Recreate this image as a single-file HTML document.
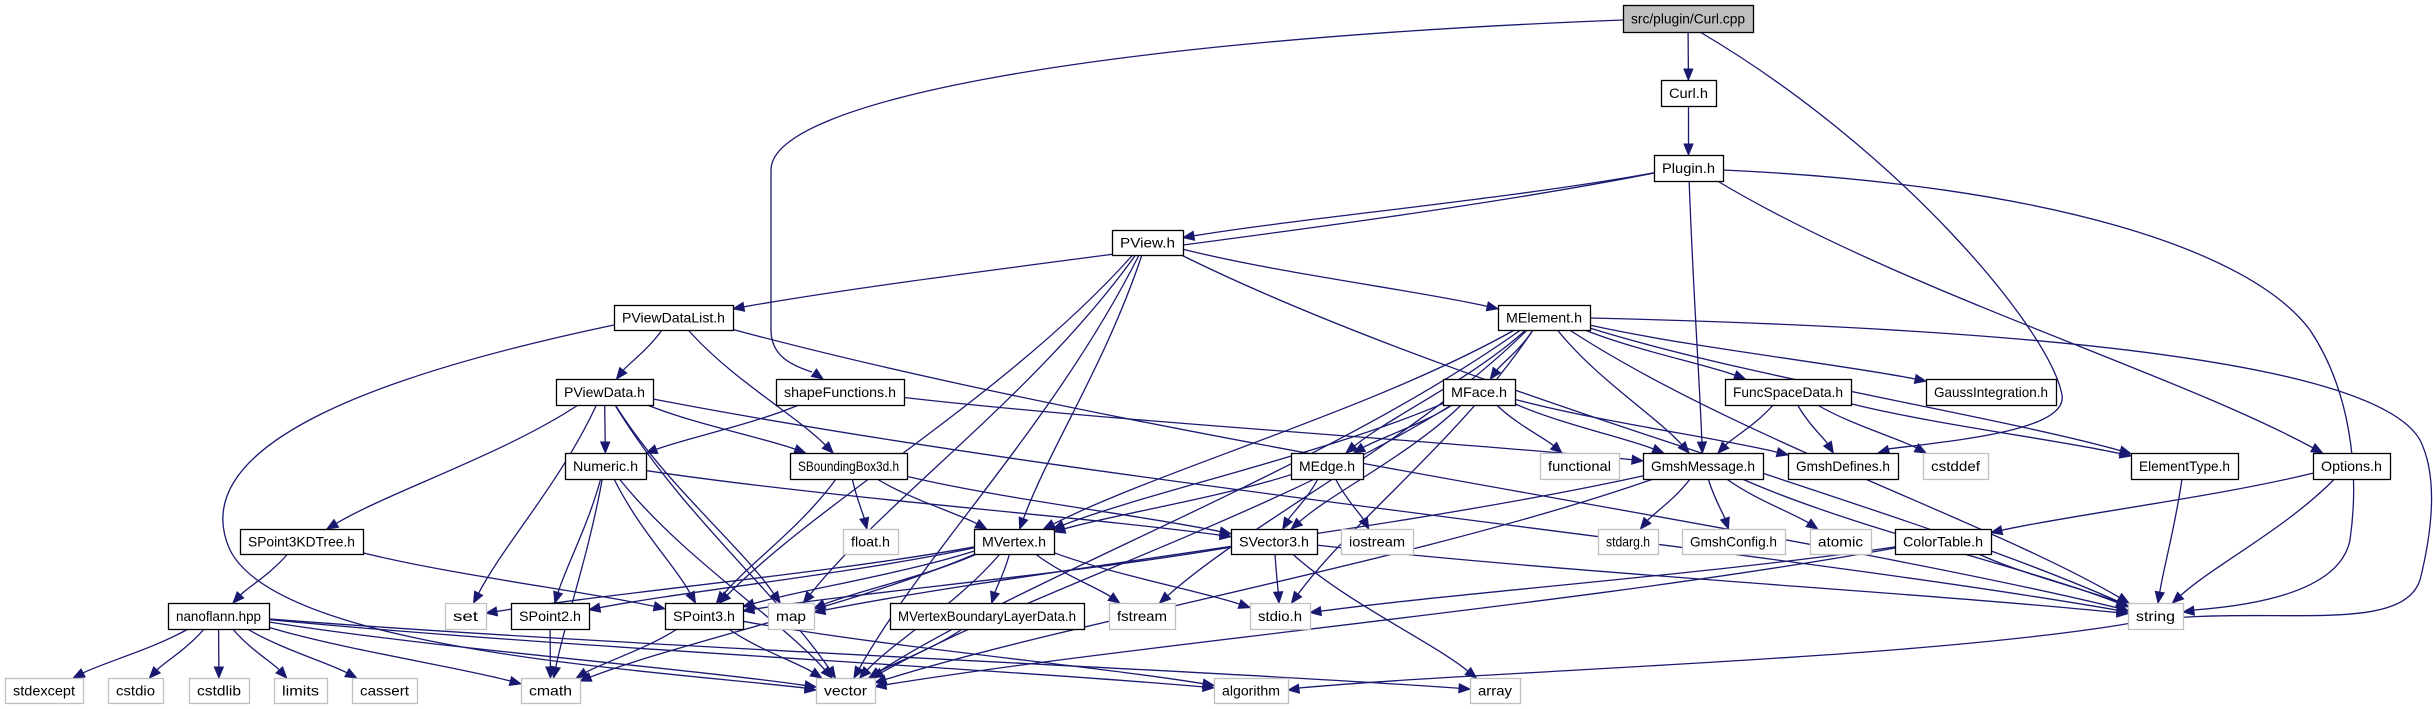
<!DOCTYPE html>
<html><head><meta charset="utf-8">
<style>
html,body{margin:0;padding:0;background:#fff;}
svg{display:block;}
text{font-family:"Liberation Sans",Arial,sans-serif;font-size:14px;fill:#000;}
</style></head>
<body>
<svg id="g" xmlns="http://www.w3.org/2000/svg" width="2433" height="709" viewBox="0 0 2433 709"></svg>
<script>
var R={0:[5,32],1:[80,106],2:[155,181],3:[230,255],4:[305,330],5:[379,405],6:[453,479],7:[529,554],8:[603,629],9:[678,703]};
var N={
cpp:["src/plugin/Curl.cpp",1623,1753,0,2],
curl:["Curl.h",1661,1716,1,0],
plugin:["Plugin.h",1654,1723,2,0],
pview:["PView.h",1112,1183,3,0],
pvdl:["PViewDataList.h",614,733,4,0],
melem:["MElement.h",1498,1590,4,0],
pvd:["PViewData.h",556,653,5,0],
shape:["shapeFunctions.h",776,904,5,0],
mface:["MFace.h",1443,1515,5,0],
fsd:["FuncSpaceData.h",1725,1851,5,0],
gauss:["GaussIntegration.h",1926,2056,5,0],
numeric:["Numeric.h",565,646,6,0],
sbb:["SBoundingBox3d.h",790,907,6,0],
medge:["MEdge.h",1291,1363,6,0],
functional:["functional",1540,1619,6,1],
gmsg:["GmshMessage.h",1643,1763,6,0],
gdef:["GmshDefines.h",1788,1898,6,0],
cstddef:["cstddef",1923,1988,6,1],
etype:["ElementType.h",2131,2238,6,0],
options:["Options.h",2313,2390,6,0],
kd:["SPoint3KDTree.h",240,363,7,0],
floath:["float.h",843,898,7,1],
mvertex:["MVertex.h",974,1054,7,0],
svec:["SVector3.h",1231,1317,7,0],
iostream:["iostream",1341,1413,7,1],
stdarg:["stdarg.h",1598,1658,7,1],
gconf:["GmshConfig.h",1682,1785,7,1],
atomic:["atomic",1810,1871,7,1],
ctab:["ColorTable.h",1895,1991,7,0],
nano:["nanoflann.hpp",168,269,8,0],
set:["set",445,486,8,1],
sp2:["SPoint2.h",511,589,8,0],
sp3:["SPoint3.h",665,743,8,0],
map:["map",768,814,8,1],
mvbl:["MVertexBoundaryLayerData.h",890,1084,8,0],
fstream:["fstream",1109,1175,8,1],
stdio:["stdio.h",1250,1310,8,1],
string:["string",2128,2183,8,1],
stdexcept:["stdexcept",5,83,9,1],
cstdio:["cstdio",108,163,9,1],
cstdlib:["cstdlib",189,249,9,1],
limits:["limits",274,327,9,1],
cassert:["cassert",352,417,9,1],
cmath:["cmath",521,580,9,1],
vector:["vector",816,875,9,1],
algorithm:["algorithm",1214,1288,9,1],
array:["array",1470,1520,9,1]
};
var E=[
["cpp","curl"],["curl","plugin"],
["plugin","pview"],["plugin","pvdl"],["plugin","gmsg"],["plugin","options"],
["pview","melem"],["pview","sp3"],["pview","mvertex"],["pview","map"],["pview","vector"],["pview","string"],
["pvdl","pvd"],["pvdl","sbb"],["pvdl","string"],
["melem","mface"],["melem","medge"],["melem","mvertex"],["melem","fsd"],["melem","gauss"],["melem","gmsg"],["melem","etype"],["melem","string"],["melem","fstream"],["melem","stdio"],["melem","vector"],
["pvd","kd"],["pvd","numeric"],["pvd","set"],["pvd","map"],["pvd","vector"],["pvd","sbb"],["pvd","string"],
["shape","numeric"],["shape","gmsg"],
["mface","medge"],["mface","mvertex"],["mface","svec"],["mface","functional"],["mface","gmsg"],["mface","gdef"],["mface","vector"],
["fsd","gmsg"],["fsd","gdef"],["fsd","cstddef"],["fsd","etype"],
["numeric","sp2"],["numeric","sp3"],["numeric","svec"],["numeric","cmath"],["numeric","vector"],
["sbb","floath"],["sbb","mvertex"],["sbb","sp3"],["sbb","svec"],
["medge","mvertex"],["medge","svec"],["medge","iostream"],
["gmsg","stdarg"],["gmsg","gconf"],["gmsg","atomic"],["gmsg","string"],["gmsg","map"],["gmsg","vector"],
["etype","string"],["options","ctab"],["options","string"],
["kd","nano"],["kd","sp3"],
["mvertex","set"],["mvertex","map"],["mvertex","sp2"],["mvertex","sp3"],["mvertex","mvbl"],["mvertex","fstream"],["mvertex","stdio"],["mvertex","cmath"],["mvertex","vector"],
["svec","sp3"],["svec","stdio"],["svec","array"],["svec","string"],
["ctab","stdio"],["ctab","string"],["ctab","vector"],
["nano","stdexcept"],["nano","cstdio"],["nano","cstdlib"],["nano","limits"],["nano","cassert"],["nano","cmath"],["nano","vector"],["nano","algorithm"],["nano","array"],
["sp3","cmath"],["sp3","vector"],["sp3","algorithm"],["sp2","cmath"],["mvbl","vector"]
];
var C=[
["M1623,20 C1100,40 771,100 771,170 L771,330 C771,355 790,365 812,372",823,379,810,370],
["M1700,32 C1900,150 2050,330 2062,395 C2068,430 1960,440 1888,449",1878,453,1900,447],
["M1723,170 C2050,185 2250,250 2310,330 C2350,390 2360,470 2350,540 C2340,590 2260,605 2194,610",2183,612,2200,610],
["M1590,318 C2100,330 2380,370 2420,440 C2440,480 2430,540 2420,580 C2400,640 2250,600 2120,625 C1900,660 1500,670 1299,688",1288,690,1305,688],
["M614,325 C400,370 180,440 230,550 C280,650 650,670 805,688",816,690,800,688]
];
var s="";
function bnd(n,tx,ty){
 var y1=R[n[3]][0],y2=R[n[3]][1],cx=(n[1]+n[2])/2,cy=(y1+y2)/2;
 var dx=tx-cx,dy=ty-cy,hw=(n[2]-n[1])/2,hh=(y2-y1)/2;
 var t=Math.min(dx?hw/Math.abs(dx):1e9,dy?hh/Math.abs(dy):1e9);
 return [cx+dx*t,cy+dy*t];
}
function arrow(tx,ty,px,py){
 var vx=tx-px,vy=ty-py,L=Math.sqrt(vx*vx+vy*vy)||1;vx/=L;vy/=L;
 var al=11,aw=4.5,bx=tx-vx*al,by=ty-vy*al;
 return [bx,by,'<polygon points="'+tx+','+ty+' '+(bx-vy*aw)+','+(by+vx*aw)+' '+(bx+vy*aw)+','+(by-vx*aw)+'" fill="#191970" stroke="#191970"/>'];
}
E.forEach(function(e){
 var a=N[e[0]],b=N[e[1]];
 var acx=(a[1]+a[2])/2,bcx=(b[1]+b[2])/2;
 var acy=(R[a[3]][0]+R[a[3]][1])/2,bcy=(R[b[3]][0]+R[b[3]][1])/2;
 var S=bnd(a,bcx,bcy),T=bnd(b,acx,acy);
 var dx=T[0]-S[0],dy=T[1]-S[1];
 var c1x=S[0]+dx*0.3,c1y=S[1]+dy*0.4,c2x=S[0]+dx*0.75,c2y=S[1]+dy*0.7;
 var A=arrow(T[0],T[1],c2x,c2y);
 s+='<path d="M'+S[0]+','+S[1]+' C'+c1x+','+c1y+' '+c2x+','+c2y+' '+A[0]+','+A[1]+'" fill="none" stroke="#191970" stroke-width="1.3"/>'+A[2];
});
C.forEach(function(c){
 var A=arrow(c[1],c[2],c[3],c[4]);
 s+='<path d="'+c[0]+'" fill="none" stroke="#191970" stroke-width="1.3"/>'+A[2];
});
for(var k in N){
 var n=N[k],y1=R[n[3]][0],y2=R[n[3]][1],w=n[2]-n[1],h=y2-y1;
 var fill=n[4]==2?"#bfbfbf":"#fff",st=n[4]==1?"#bfbfbf":"#000";
 s+='<rect x="'+(n[1]+0.5)+'" y="'+(y1+0.5)+'" width="'+w+'" height="'+h+'" fill="'+fill+'" stroke="'+st+'" stroke-width="1.3"/>';
 s+='<text x="'+((n[1]+n[2])/2)+'" y="'+(y1+h/2+5)+'" text-anchor="middle" textLength="'+(w-16)+'" lengthAdjust="spacingAndGlyphs">'+n[0]+'</text>';
}
document.getElementById("g").innerHTML=s;
</script>
</body></html>
